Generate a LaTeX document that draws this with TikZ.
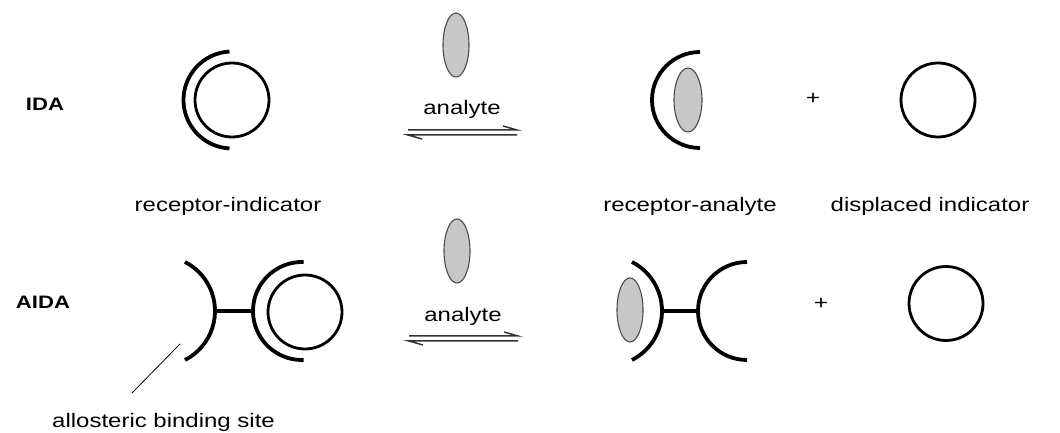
\documentclass[tikz,border=0pt]{standalone}
\usepackage{fontspec}
\setmainfont{Liberation Sans}[FakeStretch=1.23]
\usetikzlibrary{calc}
\tikzset{
  lbl/.style={inner sep=0pt, anchor=base, font=\fontsize{19.5}{22}\selectfont},
  rowlbl/.style={inner sep=0pt, anchor=base, font=\fontsize{18}{20}\selectfont\bfseries},
  ring/.style={line width=2.8pt, black},
  recarc/.style={line width=3.8pt, black},
  bar/.style={line width=3.8pt, black},
  analyte/.style={draw=black!70, line width=1.1pt, fill=black!22},
  eqline/.style={line width=1.5pt, black!80},
  pointer/.style={line width=0.8pt, black},
}
\begin{document}
\begin{tikzpicture}[x=1pt,y=1pt]
\useasboundingbox (0,0) rectangle (1060,433);
% ---------- IDA row ----------
\node[rowlbl] (ida) at (45,322) {IDA};
% receptor-indicator
\draw[ring] (232,333) circle[radius=37];
\draw[recarc] (232,333) ++(93:48.5) arc[start angle=93, end angle=267, radius=48.5];
% analyte above arrow
\draw[analyte] (456,388) ellipse[x radius=13, y radius=32];
\node[lbl] (an1) at (462,318) {analyte};
\coordinate (a1l) at (408,303); \coordinate (a1r) at (517,303);
\coordinate (b1l) at (408,298); \coordinate (b1r) at (517,298);
\draw[eqline] (a1l) -- (a1r) -- ++(-14,4);
\draw[eqline] (b1r) -- (b1l) -- ++(14,-4);
% receptor-analyte
\draw[recarc] (700,333) ++(90:48) arc[start angle=90, end angle=270, radius=48];
\draw[analyte] (688,333) ellipse[x radius=14, y radius=32];
\node[inner sep=0pt, font=\fontsize{19.5}{22}\selectfont] (plus1) at (813,334) {+};
\draw[ring] (938,333) circle[radius=37];
% labels
\node[lbl] (ri) at (228,221) {receptor-indicator};
\node[lbl] (ra) at (690,221) {receptor-analyte};
\node[lbl] (di) at (930,221) {displaced indicator};
% ---------- AIDA row ----------
\node[rowlbl] (aida) at (43,124) {AIDA};
% allosteric receptor-indicator
\draw[recarc] (160,122) ++(-63:55) arc[start angle=-63, end angle=63, radius=55];
\coordinate (barL1) at (215,122); \coordinate (barR1) at (253,122);
\draw[bar] (barL1) -- (barR1);
\draw[recarc] (302,122) ++(88:49) arc[start angle=88, end angle=272, radius=49];
\draw[ring] (305,121) circle[radius=37];
% analyte above arrow
\draw[analyte] (457,182) ellipse[x radius=13, y radius=32];
\node[lbl] (an2) at (463,111) {analyte};
\coordinate (a2l) at (409,97); \coordinate (a2r) at (518,97);
\coordinate (b2l) at (409,92); \coordinate (b2r) at (518,92);
\draw[eqline] (a2l) -- (a2r) -- ++(-14,4);
\draw[eqline] (b2r) -- (b2l) -- ++(14,-4);
% receptor with analyte at allosteric site
\draw[analyte] (630,123) ellipse[x radius=13, y radius=32];
\draw[recarc] (607,122) ++(-63:55) arc[start angle=-63, end angle=63, radius=55];
\coordinate (barL2) at (662,122); \coordinate (barR2) at (698,122);
\draw[bar] (barL2) -- (barR2);
\draw[recarc] (747,122) ++(90:49) arc[start angle=90, end angle=270, radius=49];
\node[inner sep=0pt, font=\fontsize{19.5}{22}\selectfont] (plus2) at (821,129) {+};
\draw[ring] (946,129.5) circle[radius=37];
% allosteric binding site pointer
\node[lbl, anchor=base west] (abs) at (52,5) {allosteric binding site};
\coordinate (ptrA) at (180,89); \coordinate (ptrB) at (132,40);
\draw[pointer] (ptrA) -- (ptrB);
\end{tikzpicture}
\end{document}
